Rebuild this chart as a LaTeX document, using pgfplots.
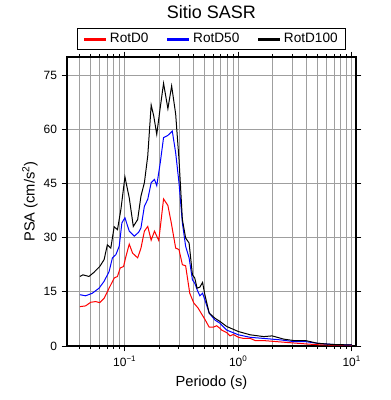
\documentclass[border=0pt]{standalone}
\usepackage{fontspec}
\setmainfont{Liberation Sans}
\usepackage{pgfplots}
\pgfplotsset{compat=1.18}
\begin{document}
\begin{tikzpicture}
\useasboundingbox (-50.25pt,-40.5pt) rectangle (242.25pt,259.5pt);
\begin{axis}[
  name=ax,
  scale only axis, width=216.75pt, height=216.75pt,
  xmode=log, xmin=0.031, xmax=10.9, ymin=0, ymax=80,
  xtick={0.1,1,10}, xticklabels={10\textsuperscript{−1},10\textsuperscript{0},10\textsuperscript{1}},
  minor xtick={0.04,0.05,0.06,0.07,0.08,0.09,0.2,0.3,0.4,0.5,0.6,0.7,0.8,0.9,2,3,4,5,6,7,8,9},
  ytick={0,15,30,45,60,75},
  /pgf/number format/assume math mode=true,
  tick align=outside, xtick pos=both, ytick pos=both,
  major tick length=4pt, minor tick length=2.25pt,
  tick style={black, line width=0.6pt},
  xmajorgrids, ymajorgrids, xminorgrids,
  major grid style={gray!75, line width=0.5pt},
  minor grid style={gray!75, line width=0.5pt},
  axis line style={line width=1pt},
  ticklabel style={font=\fontsize{9}{10}\selectfont},
  label style={font=\fontsize{11}{13}\selectfont},
  xlabel={Periodo (s)},
  ylabel={PSA (cm/s\textsuperscript{2})},
  xlabel style={at={(axis description cs:0.5,-0.141)}, anchor=base},
  ylabel style={at={(axis description cs:-0.128,0.5)}, anchor=center},
  legend columns=3,
  legend style={at={(axis description cs:0.5,1.024)}, anchor=south, draw=black, line width=0.9pt,
    font=\fontsize{10.2}{12}\selectfont, inner ysep=1.5pt, inner xsep=4pt,
    /tikz/every even column/.append style={column sep=11pt}},
  legend image code/.code={\draw[#1, line width=2.2pt] (0pt,0pt) -- (16.3pt,0pt);},
]
\addplot[red, line width=0.75pt] coordinates {
(0.0403,10.9)(0.0452,11.1)(0.0501,12.1)(0.0555,12.3)(0.0602,12.0)(0.0658,13.2)(0.0728,16)(0.0807,18.8)(0.0863,19.25)(0.0912,21.6)(0.0976,22)(0.1025,24.8)(0.1096,28.2)(0.1173,25.7)(0.130,24.4)(0.139,27.1)(0.149,31.8)(0.1595,33.1)(0.171,29.3)(0.1828,31.8)(0.1995,29.2)(0.2198,40.7)(0.240,38.9)(0.257,34.1)(0.281,27.1)(0.3006,26.7)(0.322,22.5)(0.344,22.2)(0.374,14.6)(0.406,11.9)(0.443,10.5)(0.475,8.9)(0.508,7.4)(0.555,5.2)(0.602,5.2)(0.645,5.6)(0.690,4.9)(0.715,4.4)(0.792,3.7)(0.847,2.8)(0.906,3.2)(1.004,2.4)(1.112,2.1)(1.275,2.1)(1.413,1.5)(1.675,1.5)(2.20,1.2)(2.89,0.9)(4.07,0.55)(5.34,0.3)(10,0.2)
};
\addlegendentry{RotD0}
\addplot[blue, line width=0.75pt] coordinates {
(0.0403,14.2)(0.0452,13.9)(0.0518,14.6)(0.0594,16)(0.0658,17.9)(0.0728,20.6)(0.0779,24.4)(0.0836,25.3)(0.0894,27.6)(0.0944,34.1)(0.1004,35.5)(0.1096,31.8)(0.1214,30.4)(0.1327,31.5)(0.139,32.7)(0.149,38.7)(0.1595,40.6)(0.171,45.2)(0.1828,46.1)(0.1915,44.4)(0.2055,50.7)(0.2198,57.7)(0.240,58.3)(0.2623,59.5)(0.281,53.5)(0.3006,45.2)(0.322,34.1)(0.344,27.6)(0.369,24.4)(0.395,18.3)(0.414,17.4)(0.434,15.6)(0.459,13.9)(0.485,14.6)(0.508,12.8)(0.555,9.1)(0.623,7.2)(0.690,6.3)(0.792,4.4)(1.004,3.1)(1.275,2.4)(1.675,2.1)(2.356,1.7)(3.09,1.2)(3.93,1.2)(4.99,0.75)(7.01,0.4)(10,0.3)
};
\addlegendentry{RotD50}
\addplot[black, line width=0.75pt] coordinates {
(0.0403,19.25)(0.0428,19.7)(0.0484,19.25)(0.0536,20.4)(0.0602,22)(0.0658,23.9)(0.0703,28)(0.0754,27.1)(0.0807,33)(0.0863,32.2)(0.0925,37.8)(0.1004,46.8)(0.1096,41)(0.119,33.1)(0.130,35)(0.139,41.5)(0.149,45.2)(0.1595,52.6)(0.171,66.7)(0.180,63.7)(0.1915,58.6)(0.2055,66)(0.2198,72.7)(0.240,65.7)(0.259,72)(0.281,64.2)(0.3006,51.7)(0.322,35)(0.344,29.9)(0.369,28.5)(0.395,19.7)(0.414,18.8)(0.434,16)(0.459,16.3)(0.485,17.6)(0.508,14.2)(0.555,9.1)(0.623,7.7)(0.690,6.8)(0.792,5.4)(1.004,4)(1.275,3.1)(1.675,2.6)(1.988,2.8)(2.52,1.9)(3.09,1.5)(3.93,1.5)(4.99,0.75)(7.01,0.4)(10,0.3)
};
\addlegendentry{RotD100}
\end{axis}
\node[anchor=base, font=\fontsize{13.5}{16}\selectfont] at ([yshift=29pt]ax.north) {Sitio SASR};
\end{tikzpicture}
\end{document}
